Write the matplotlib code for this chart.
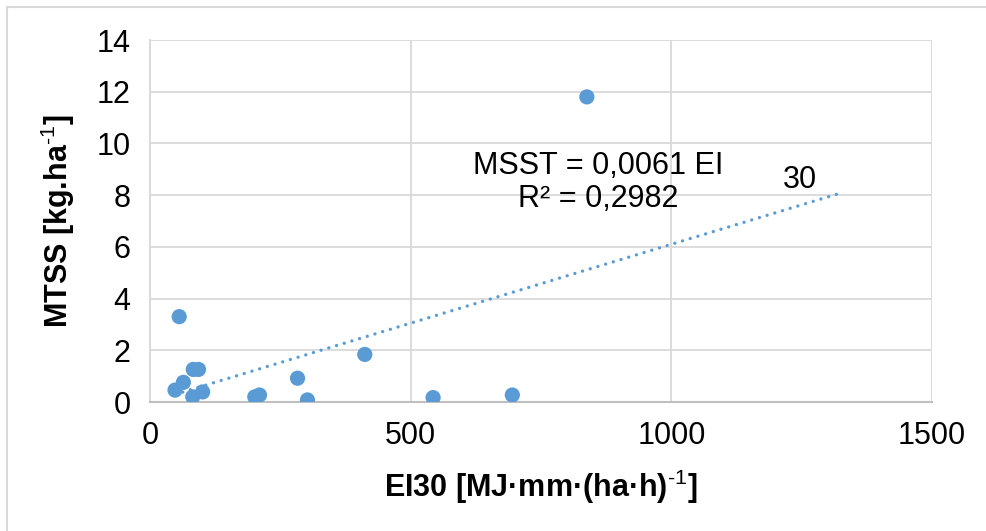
import numpy as np
import matplotlib.pyplot as plt
from matplotlib.lines import Line2D

# EI30 vs MTSS
ei30 = [48, 56, 64, 82, 83, 93, 101, 201, 210, 283, 302, 412, 543, 695, 838]
mtss = [0.46, 3.30, 0.76, 0.20, 1.26, 1.26, 0.39, 0.20, 0.27, 0.92, 0.08, 1.84, 0.17, 0.27, 11.8]

slope = 0.0061
trend_end = 1320  # forward forecast of the trendline

blue = '#5b9bd5'
grid_gray = '#d9d9d9'
fs = 22

plt.rcParams['font.family'] = ['Liberation Sans', 'DejaVu Sans']
plt.rcParams['mathtext.fontset'] = 'custom'
plt.rcParams['mathtext.rm'] = 'Liberation Sans'
plt.rcParams['mathtext.it'] = 'Liberation Sans'
plt.rcParams['mathtext.bf'] = 'Liberation Sans:bold'

fig = plt.figure(figsize=(9.87, 5.31), dpi=100)
ax = fig.add_axes([150 / 987, 1 - 402 / 531, 782 / 987, 362 / 531])

# chart area border (only left and top fall inside the picture)
fig.add_artist(Line2D([7 / 987, 7 / 987], [0, 1 - 7 / 531], color=grid_gray, lw=1.5))
fig.add_artist(Line2D([7 / 987, 1], [1 - 7 / 531, 1 - 7 / 531], color=grid_gray, lw=1.5))

# trendline through origin
x_line = np.array([min(ei30), trend_end])
ax.plot(x_line, slope * x_line, color=blue, lw=2.4, dashes=(0.01, 2.4),
        dash_capstyle='round', zorder=2)

ax.scatter(ei30, mtss, s=120, color=blue, edgecolors='none', zorder=3)

ax.set_xlim(0, 1500)
ax.set_ylim(0, 14)
ax.set_xticks([0, 500, 1000, 1500])
ax.set_yticks(range(0, 15, 2))
ax.grid(True, color=grid_gray, lw=1.3, zorder=0)
ax.set_axisbelow(True)
for side in ['top', 'right']:
    ax.spines[side].set_visible(False)
ax.spines['left'].set_color(grid_gray)
ax.spines['bottom'].set_color('#bfbfbf')
ax.spines['left'].set_linewidth(1.3)
ax.spines['bottom'].set_linewidth(1.5)
ax.tick_params(length=0, labelsize=fs, pad=14)

ax.set_xlabel('EI30 [MJ·mm·(ha·h)$^{\\text{-1}}$]', fontsize=fs,
              fontweight='bold', labelpad=12)
ax.set_ylabel('MTSS [kg.ha$^{\\text{-1}}$]', fontsize=fs,
              fontweight='bold', labelpad=14)

ax.text(860, 9.13, 'MSST = 0,0061 EI', fontsize=fs, ha='center', va='center')
ax.text(860, 7.85, 'R² = 0,2982', fontsize=fs, ha='center', va='center')
ax.text(1247, 8.6, '30', fontsize=fs, ha='center', va='center')

fig.savefig('out.png', dpi=100)
